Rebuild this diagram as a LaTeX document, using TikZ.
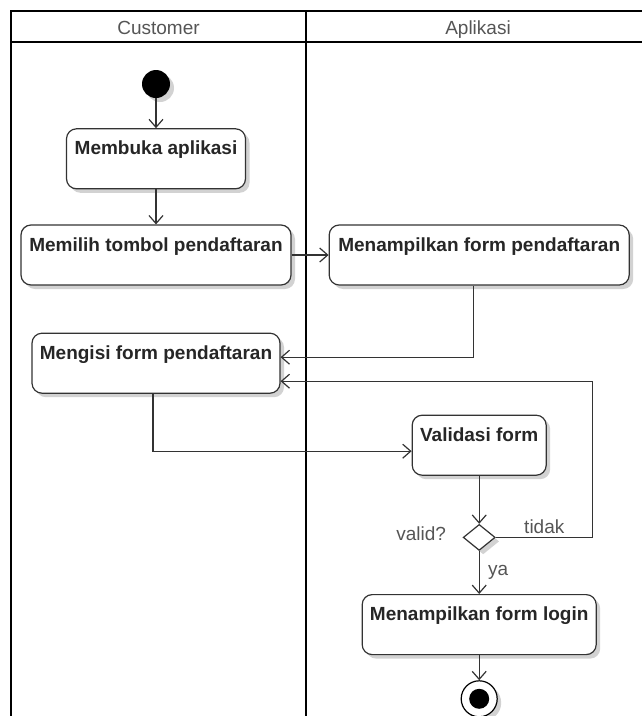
\documentclass[tikz,border=0pt]{standalone}
\usepackage{fontspec}
\setmainfont{Liberation Sans}
\usetikzlibrary{arrows.meta, positioning, shapes.geometric, shadows}
\definecolor{edgegray}{RGB}{51,51,51}
\definecolor{headgray}{RGB}{85,85,85}
\definecolor{shadowgray}{RGB}{210,210,210}
\tikzset{
  lane/.style={draw=black, line width=2pt},
  shade/.style={drop shadow={shadow xshift=4pt, shadow yshift=-4pt,
                fill=shadowgray, opacity=1}},
  act/.style={rectangle, rounded corners=10pt, draw=edgegray, fill=white,
              line width=1.2pt, minimum height=60pt, text height=26pt,
              text depth=34pt, inner ysep=0pt, inner xsep=4pt,
              font=\fontsize{19}{22}\selectfont\bfseries, text=black!85,
              shade},
  startnode/.style={circle, fill=black, minimum size=28pt, inner sep=0pt,
                    shade},
  endnode/.style={circle, draw=black, fill=white, line width=1.2pt,
                  minimum size=36pt, inner sep=0pt, shade,
                  path picture={\fill[black] (path picture bounding box.center)
                                circle (10pt);}},
  decision/.style={diamond, draw=edgegray, fill=white, line width=1.2pt,
                   minimum width=32pt, minimum height=26pt, inner sep=0pt,
                   shade},
  arr/.style={-{Straight Barb[length=8pt,width=14pt]}, line width=1.2pt,
              draw=edgegray},
  lbl/.style={font=\fontsize{19}{22}\selectfont, text=headgray},
}

\begin{document}
\begin{tikzpicture}[x=1pt, y=1pt]
  \useasboundingbox (0,0) rectangle (641,-716);
  % swimlanes
  \draw[lane] (11,-740) |- (660,-11);
  \draw[lane] (11,-42) -- (660,-42);
  \draw[lane] (306,-11) -- (306,-740);
  \node[lbl, anchor=base] (custhead) at (158.5,-34) {Customer};
  \node[lbl, anchor=base] (apphead)  at (478,-34)   {Aplikasi};

  \node[startnode] (start) at (156,-84) {};
  \node[act, minimum width=179pt, below=30pt of start]  (open)     {Membuka aplikasi};
  \node[act, minimum width=270pt, below=35pt of open]   (pick)     {Memilih tombol pendaftaran};
  \node[act, minimum width=300pt, right=37pt of pick]   (showform) {Menampilkan form pendaftaran};
  \node[act, minimum width=248pt, below=47pt of pick]   (fill)     {Mengisi form pendaftaran};
  \node[act, minimum width=134pt, below=129pt of showform] (check) {Validasi form};
  \node[decision, below=48pt of check]                 (dec)      {};
  \node[lbl, left=13pt of dec, yshift=4pt]             (validq)   {valid?};
  \node[act, minimum width=234pt, below=43pt of dec]    (login)    {Menampilkan form login};
  \node[endnode, below=25pt of login]                  (final)    {};

  \draw[arr] (start) -- (open);
  \draw[arr] (open)  -- (pick);
  \draw[arr] (pick)  -- (showform);
  \draw[arr] ([xshift=-6pt]showform.south) |- ([yshift=6pt]fill.east);
  \draw[arr] ([xshift=-3pt]fill.south) |- ([yshift=-6pt]check.west);
  \draw[arr] (check) -- (dec);
  \draw[arr] (dec.east) -- node[lbl, above] (no) {tidak} ++(97,0)
             |- ([yshift=-18pt]fill.east);
  \draw[arr] (dec)   -- node[lbl, right=5pt] (yes) {ya} (login);
  \draw[arr] (login) -- (final);
\end{tikzpicture}
\end{document}
